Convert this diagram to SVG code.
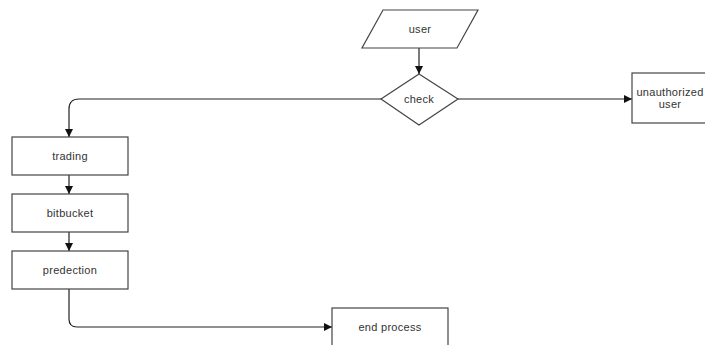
<svg xmlns="http://www.w3.org/2000/svg" width="705" height="345" viewBox="0 0 705 345">
<style>
.s{fill:#fff;stroke:#444;stroke-width:1.2}
.t{font-family:"Liberation Sans",Arial,sans-serif;font-size:11px;fill:#333;text-anchor:middle;dominant-baseline:central;letter-spacing:0.3px}
.c{fill:none;stroke:#222;stroke-width:1.2}
</style>
<defs>
<marker id="a" viewBox="0 0 10 10" refX="10" refY="5" markerWidth="8" markerHeight="8" markerUnits="userSpaceOnUse" orient="auto"><path d="M0,0 L10,5 L0,10 Z" fill="#111"/></marker>
</defs>
<rect width="705" height="345" fill="#fff"/>
<g id="connectors">
<path class="c" d="M419,48 V74" marker-end="url(#a)"/>
<path class="c" d="M381,99 H79 Q69,99 69,109 V137" marker-end="url(#a)"/>
<path class="c" d="M458,99 H632" marker-end="url(#a)"/>
<path class="c" d="M69,175 V194" marker-end="url(#a)"/>
<path class="c" d="M69,232 V251" marker-end="url(#a)"/>
<path class="c" d="M69,289 V319 Q69,327 77,327 H332" marker-end="url(#a)"/>
</g>
<g id="user"><polygon class="s" points="383,10 478,10 457,48 362,48"/><text class="t" x="420" y="29">user</text></g>
<g id="check"><polygon class="s" points="419,74 458,99 419,125 381,99"/><text class="t" x="419" y="99">check</text></g>
<g id="unauthorized"><rect class="s" x="632" y="73" width="78" height="50"/><text class="t" x="670" y="92">unauthorized</text><text class="t" x="670" y="104">user</text></g>
<g id="trading"><rect class="s" x="12" y="137" width="116" height="38"/><text class="t" x="70" y="156">trading</text></g>
<g id="bitbucket"><rect class="s" x="12" y="194" width="116" height="38"/><text class="t" x="70" y="213">bitbucket</text></g>
<g id="predection"><rect class="s" x="12" y="251" width="116" height="38"/><text class="t" x="70" y="270">predection</text></g>
<g id="end"><rect class="s" x="332" y="308" width="116" height="40"/><text class="t" x="390" y="327">end process</text></g>
</svg>
